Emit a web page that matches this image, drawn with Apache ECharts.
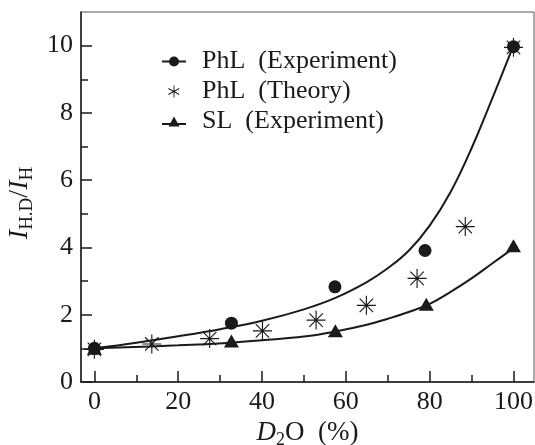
<!DOCTYPE html>
<html>
<head>
<meta charset="utf-8">
<script src="https://cdn.jsdelivr.net/npm/echarts@6/dist/echarts.min.js"></script>
<style>html,body{margin:0;padding:0;background:#fff}#c{width:535px;height:445px}</style>
</head>
<body>
<div id="c"></div>
<script>
// ---- data ----
const xTickValues = [0, 20, 40, 60, 80, 100];
const xMinorValues = [10, 30, 50, 70, 90];
const yTickValues = [0, 2, 4, 6, 8, 10];
const yMinorValues = [1, 3, 5, 7, 9];

const phlExpX = [0, 32.7, 57.4, 78.9, 100];
const phlExpY = [1.0, 1.75, 2.83, 3.91, 9.97];

const phlTheoryX = [0, 13.7, 27.5, 40.1, 52.9, 64.9, 77.0, 88.5, 100];
const phlTheoryY = [0.97, 1.13, 1.29, 1.52, 1.84, 2.28, 3.08, 4.62, 9.95];

const slExpX = [0, 32.7, 57.5, 79.2, 100];
const slExpY = [1.0, 1.22, 1.52, 2.31, 4.05];

// fitted curves
const phlFitX = [0, 10, 20, 30, 40, 50, 57.5, 65, 70, 75, 80, 85, 90, 95, 100];
const phlFitY = [1.0, 1.17, 1.36, 1.57, 1.82, 2.16, 2.5, 2.97, 3.38, 3.9, 4.65, 5.65, 6.95, 8.45, 10.0];

const slFitX = [0, 20, 32.7, 40, 50, 57.5, 65, 70, 75, 80, 85, 90, 95, 100];
const slFitY = [1.0, 1.09, 1.17, 1.24, 1.35, 1.5, 1.7, 1.88, 2.08, 2.32, 2.68, 3.08, 3.53, 3.98];

const legendNames = ['PhL  (Experiment)', 'PhL  (Theory)', 'SL  (Experiment)'];

const zip = (xs, ys) => xs.map((x, i) => [x, ys[i]]);

const FONT = 'Liberation Serif';
const INK = '#1a1a1a';

const starPath = 'path://M-0.6,-10L0.6,-10L0.6,10L-0.6,10Z' +
  'M-10,-0.6L10,-0.6L10,0.6L-10,0.6Z' +
  'M-6.65,-7.5L7.5,6.65L6.65,7.5L-7.5,-6.65Z' +
  'M-7.5,6.65L6.65,-7.5L7.5,-6.65L-6.65,7.5Z';

const legCircle = 'path://M0,0L0.01,0L0.01,0.01Z M23.99,11.99L24,11.99L24,12Z M0,5H24V7H0Z M7,6A5,5 0 1,1 17,6A5,5 0 1,1 7,6Z';
const legTri = 'path://M0,0L0.01,0L0.01,0.01Z M23.99,11.99L24,11.99L24,12Z M0,7.5H24V9.5H0Z M12,1L17.5,11L6.5,11Z';
const legStar = 'path://M0,0L0.01,0L0.01,0.01Z M23.99,11.99L24,11.99L24,12Z' +
  'M11.55,0L12.45,0L12.45,12L11.55,12Z' +
  'M6.6,2.6L17.4,8.6L17,9.4L6.2,3.4Z' +
  'M6.2,8.6L17,2.6L17.4,3.4L6.6,9.4Z';

const chart = echarts.init(document.getElementById('c'), null, {renderer: 'canvas'});

const option = {
  backgroundColor: '#fff',
  animation: false,
  grid: {left: 81, right: 1, top: 12, bottom: 63, show: true, borderColor: '#555', borderWidth: 1, containLabel: false, outerBoundsMode: 'none'},
  legend: {
    orient: 'vertical', left: 157, top: 43,
    itemWidth: 24, itemHeight: 12, itemGap: 3,
    textStyle: {fontFamily: FONT, fontSize: 26, color: INK, lineHeight: 27, padding: [0, 0, 0, 11]},
    data: [
      {name: legendNames[0], icon: legCircle},
      {name: legendNames[1], icon: legStar},
      {name: legendNames[2], icon: legTri}
    ]
  },
  xAxis: [{
    type: 'value', min: -3.2, max: 104.9,
    axisLine: {onZero: false, lineStyle: {color: INK, width: 1.5}},
    axisTick: {inside: true, length: 11, customValues: xTickValues, lineStyle: {color: INK, width: 1.5}},
    axisLabel: {customValues: xTickValues, margin: 7, fontFamily: FONT, fontSize: 26, color: INK},
    splitLine: {show: false},
    name: '{i|D}{s|2}{n|O  (%)}',
    nameLocation: 'middle', nameGap: 31,
    nameTextStyle: {
      rich: {
        i: {fontFamily: FONT, fontStyle: 'italic', fontSize: 27, color: INK, lineHeight: 32, verticalAlign: 'middle'},
        s: {fontFamily: FONT, fontSize: 18, color: INK, lineHeight: 32, verticalAlign: 'bottom'},
        n: {fontFamily: FONT, fontSize: 27, color: INK, lineHeight: 32, verticalAlign: 'middle'}
      }
    }
  }, {
    type: 'value', min: -3.2, max: 104.9, position: 'bottom',
    axisLine: {show: false, onZero: false},
    axisTick: {inside: true, length: 7, customValues: xMinorValues, lineStyle: {color: INK, width: 1.5}},
    axisLabel: {show: false},
    splitLine: {show: false}
  }],
  yAxis: [{
    type: 'value', min: 0, max: 11,
    axisLine: {show: true, onZero: false, lineStyle: {color: INK, width: 1.5}},
    axisTick: {show: true, inside: true, length: 11, customValues: yTickValues, lineStyle: {color: INK, width: 1.5}},
    axisLabel: {customValues: yTickValues, margin: 8, fontFamily: FONT, fontSize: 26, color: INK},
    splitLine: {show: false},
    name: '{i|I}{s|H.D}{n|/}{i|I}{s|H}',
    nameLocation: 'middle', nameRotate: 90, nameGap: 44,
    nameTextStyle: {
      padding: [0, 12, 0, 0],
      rich: {
        i: {fontFamily: FONT, fontStyle: 'italic', fontSize: 28, color: INK, lineHeight: 32, verticalAlign: 'middle'},
        s: {fontFamily: FONT, fontSize: 19, color: INK, lineHeight: 32, verticalAlign: 'bottom'},
        n: {fontFamily: FONT, fontSize: 28, color: INK, lineHeight: 32, verticalAlign: 'middle'}
      }
    }
  }, {
    type: 'value', min: 0, max: 11, position: 'left',
    axisLine: {show: false, onZero: false},
    axisTick: {show: true, inside: true, length: 7, customValues: yMinorValues, lineStyle: {color: INK, width: 1.5}},
    axisLabel: {show: false},
    splitLine: {show: false}
  }],
  series: [
    {
      name: 'fitPhL', type: 'line', smooth: 0.4, showSymbol: false, symbol: 'none',
      data: zip(phlFitX, phlFitY),
      lineStyle: {color: INK, width: 2}, z: 2, silent: true
    },
    {
      name: 'fitSL', type: 'line', smooth: 0.4, showSymbol: false, symbol: 'none',
      data: zip(slFitX, slFitY),
      lineStyle: {color: INK, width: 2}, z: 2, silent: true
    },
    {
      name: legendNames[1], type: 'scatter', symbol: starPath, symbolSize: 19,
      data: zip(phlTheoryX, phlTheoryY),
      itemStyle: {color: INK, opacity: 1}, z: 3
    },
    {
      name: legendNames[0], type: 'scatter', symbol: 'circle', symbolSize: 13,
      data: zip(phlExpX, phlExpY),
      itemStyle: {color: INK, opacity: 1}, z: 4
    },
    {
      name: legendNames[2], type: 'scatter', symbol: 'triangle', symbolSize: [15, 13],
      data: zip(slExpX, slExpY),
      itemStyle: {color: INK, opacity: 1}, z: 4
    }
  ]
};
chart.setOption(option);
</script>
</body>
</html>
